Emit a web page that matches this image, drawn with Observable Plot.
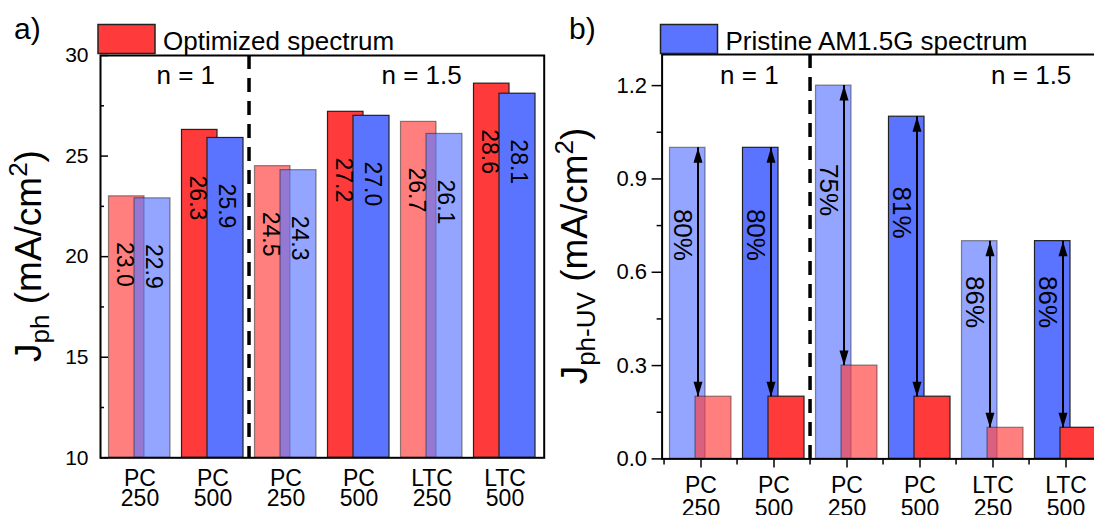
<!DOCTYPE html>
<html><head><meta charset="utf-8">
<script src="https://cdn.jsdelivr.net/npm/d3@7"></script>
<script src="https://cdn.jsdelivr.net/npm/@observablehq/plot@0.6"></script>
<style>
html,body{margin:0;padding:0;overflow:hidden;background:#fff;}
#wrap{position:relative;width:1094px;height:515px;overflow:hidden;}
#wrap svg{position:absolute;top:0;}
</style></head><body><div id="wrap"></div>
<script>
// ---- data ----
const groupKeys = ["n1-PC250","n1-PC500","n15-PC250","n15-PC500","n15-LTC250","n15-LTC500"];
const tickLabels = ["PC\n250","PC\n500","PC\n250","PC\n500","LTC\n250","LTC\n500"];
const isLight = [true,false,true,false,true,false];
const jphOptimized = [23.0, 26.3, 24.5, 27.2, 26.7, 28.6];
const jphPristine  = [22.9, 25.9, 24.3, 27.0, 26.1, 28.1];
const uvPristine   = [1.0, 1.0, 1.2, 1.1, 0.7, 0.7];
const uvOptimized  = [0.2, 0.2, 0.3, 0.2, 0.1, 0.1];
const uvPercent    = ["80%","80%","75%","81%","86%","86%"];
const yTicksA = [10,15,20,25,30];
const yMinorA = [12.5,17.5,22.5,27.5];
const yTicksB = [0,0.3,0.6,0.9,1.2];
const yMinorB = [0.15,0.45,0.75,1.05];

const rowsA = groupKeys.map((g,i)=>({g, opt:jphOptimized[i], pri:jphPristine[i], light:isLight[i]}));
const rowsB = groupKeys.map((g,i)=>({g, blue:uvPristine[i], red:uvOptimized[i], pct:uvPercent[i], light:isLight[i]}));
const labelOf = d => tickLabels[groupKeys.indexOf(d)];

const RED = "#FF3A3A", BLUE = "#5B74FF", EDGE = "#222", LIGHT = 0.65;
const FONT = "Liberation Sans, Arial, Helvetica, sans-serif";

const wrap = document.getElementById("wrap");

// ---- panel a ----
const WA = 547, MLA = 100, MRA = 3.3;
const stepA = (WA - MLA - MRA) / 6;
function barsA(key, fill, insL, insR) {
  return [true,false].map(l => Plot.barY(rowsA.filter(d=>d.light===l), {
    x:"g", y1:10, y2:key, fill, stroke:EDGE, strokeWidth:1.2,
    fillOpacity: l?LIGHT:1, strokeOpacity: l?0.5:1, insetLeft:insL, insetRight:insR
  }));
}
const svgA = Plot.plot({
  width: WA, height: 515, marginLeft: MLA, marginRight: MRA, marginTop: 55, marginBottom: 57.7,
  style: {fontFamily: FONT, color: "black", background: "white"},
  x: {domain: groupKeys, padding: 0, label: null},
  y: {domain: [10,30], label: null},
  marks: [
    ...barsA("opt", RED, 5.5, 32),
    ...barsA("pri", BLUE, 31, 6),
    Plot.text(rowsA, {x:"g", y:"opt", text:d=>d.opt.toFixed(1), rotate:90, dx:-16, dy:68, fontSize:23, fill:"black"}),
    Plot.text(rowsA, {x:"g", y:"pri", text:d=>d.pri.toFixed(1), rotate:90, dx:13.5, dy:68, fontSize:23, fill:"black"}),
    Plot.ruleX([groupKeys[2]], {dx:-stepA/2, stroke:"black", strokeWidth:3.5, strokeDasharray:"14,9"}),
    Plot.text(["n = 1"], {frameAnchor:"top-left", dx:56, dy:28, lineAnchor:"bottom", textAnchor:"start", fontSize:26}),
    Plot.text(["n = 1.5"], {frameAnchor:"top-left", dx:281, dy:28, lineAnchor:"bottom", textAnchor:"start", fontSize:26}),
    Plot.axisY({ticks: yTicksA, tickSize: -8, tickFormat: ()=>"", strokeWidth:1.5, label:null}),
    Plot.axisY({ticks: yMinorA, tickSize: -4, tickFormat: ()=>"", strokeWidth:1.5, label:null}),
    Plot.axisY({ticks: yTicksA, tickSize: 0, tickPadding: 12, fontSize: 21, label:null}),
    Plot.axisX({tickSize: 0, tickPadding: 13, fontSize: 23, lineHeight: 0.9, tickFormat: labelOf, label:null}),
    Plot.frame({stroke:"black", strokeWidth:2})
  ]
});
svgA.style.left = "0px";
wrap.appendChild(svgA);

// ---- panel b ----
const WB = 560, MLB = 114.6, MRB = 2;
const stepB = (WB - MLB - MRB) / 6;
function barsB(key, fill, insL, insR) {
  return [true,false].map(l => Plot.barY(rowsB.filter(d=>d.light===l), {
    x:"g", y:key, fill, stroke:EDGE, strokeWidth:1.2,
    fillOpacity: l?LIGHT:1, strokeOpacity: l?0.5:1, insetLeft:insL, insetRight:insR
  }));
}
const headUp = {draw(ctx){ ctx.moveTo(0,0); ctx.lineTo(4.5,15); ctx.lineTo(-4.5,15); ctx.closePath(); }};
const svgB = Plot.plot({
  width: WB, height: 515, marginLeft: MLB, marginRight: MRB, marginTop: 54, marginBottom: 56.6,
  style: {fontFamily: FONT, color: "black", background: "white"},
  x: {domain: groupKeys, padding: 0, label: null},
  y: {domain: [0,1.3], label: null},
  marks: [
    ...barsB("blue", BLUE, 5.5, 32),
    ...barsB("red", RED, 31, 6),
    Plot.ruleX(rowsB, {x:"g", y1:"red", y2:"blue", dx:-3, stroke:"black", strokeWidth:2}),
    Plot.dot(rowsB, {x:"g", y:"blue", symbol:headUp, fill:"black", stroke:null, dx:-3}),
    Plot.dot(rowsB, {x:"g", y:"red", symbol:headUp, rotate:180, fill:"black", stroke:null, dx:-3}),
    Plot.text(rowsB, {x:"g", y:d=>d.blue*0.72, text:"pct", rotate:90, dx:-19, fontSize:26, fill:"black"}),
    Plot.ruleX([groupKeys[2]], {dx:-stepB/2, stroke:"black", strokeWidth:3.5, strokeDasharray:"14,9"}),
    Plot.text(["n = 1"], {frameAnchor:"top-left", dx:58, dy:29, lineAnchor:"bottom", textAnchor:"start", fontSize:26}),
    Plot.text(["n = 1.5"], {frameAnchor:"top-left", dx:329, dy:29, lineAnchor:"bottom", textAnchor:"start", fontSize:26}),
    Plot.axisY({ticks: yTicksB, tickSize: 10, tickPadding: 5, fontSize: 22, tickFormat: d3.format(".1f"), strokeWidth:1.5, label:null}),
    Plot.axisY({ticks: yMinorB, tickSize: 5, tickFormat: ()=>"", strokeWidth:1.5, label:null}),
    Plot.axisX({tickSize: 9, tickPadding: 9, fontSize: 23, lineHeight: 1.0, tickFormat: labelOf, strokeWidth:1.5, label:null}),
    Plot.axisX(groupKeys, {tickSize: 6, dx:-stepB/2, tickFormat: ()=>"", strokeWidth:1.5, label:null}),
    Plot.frame({stroke:"black", strokeWidth:2})
  ]
});
svgB.style.left = "547px";
wrap.appendChild(svgB);

// ---- titles, legends, panel letters ----
function yTitle(svg, x, y, extra) {
  const t = d3.select(svg).append("text")
    .attr("transform", `translate(${x},${y}) rotate(-90)`)
    .attr("text-anchor","middle").attr("font-family",FONT).attr("font-size",37).attr("fill","black");
  t.append("tspan").text("J");
  t.append("tspan").attr("font-size",26).attr("dy",8).text("ph" + extra);
  t.append("tspan").attr("dy",-8).text(" (mA/cm");
  t.append("tspan").attr("font-size",26).attr("dy",-14).text("2");
  t.append("tspan").attr("dy",14).text(")");
}
yTitle(svgA, 41, 256, "");
yTitle(svgB, 40, 256, "-UV");

function legend(svg, x, fill, label, letter, lx) {
  const s = d3.select(svg);
  s.append("rect").attr("x",x).attr("y",24.5).attr("width",57).attr("height",29)
    .attr("fill",fill).attr("stroke",EDGE).attr("stroke-width",1.5);
  s.append("text").attr("x",x+65).attr("y",50).attr("text-anchor","start")
    .attr("font-family",FONT).attr("font-size",26).attr("fill","black").text(label);
  s.append("text").attr("x",lx).attr("y",39).attr("text-anchor","start")
    .attr("font-family",FONT).attr("font-size",30).attr("fill","black").text(letter);
}
legend(svgA, 98, RED, "Optimized spectrum", "a)", 14);
legend(svgB, 113.5, BLUE, "Pristine AM1.5G spectrum", "b)", 22);
</script></body></html>
